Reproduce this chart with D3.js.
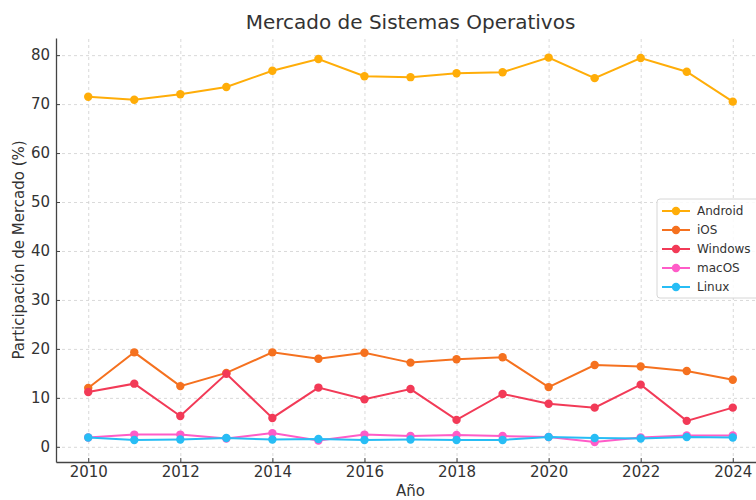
<!DOCTYPE html>
<html>
<head>
<meta charset="utf-8">
<script src="https://cdn.jsdelivr.net/npm/d3@7"></script>
<style>
	body { margin: 0; background: #fff; }
	svg { font-family: "DejaVu Sans", sans-serif; }
	.grid line { stroke: #cfcfcf; stroke-dasharray: 3,3; stroke-width: 0.8; }
	.grid path { display: none; }
	.axis path { stroke: #444; stroke-width: 1.3; }
	.axis line { stroke: #444; }
	.axis text { fill: #333; font-size: 15px; font-family: "DejaVu Sans", sans-serif; }
</style>
</head>
<body>
<div id="chart"></div>
<script>
var years = [2010, 2011, 2012, 2013, 2014, 2015, 2016, 2017, 2018, 2019, 2020, 2021, 2022, 2023, 2024];
var android = [71.5, 70.9, 72.0, 73.5, 76.8, 79.2, 75.7, 75.5, 76.3, 76.5, 79.5, 75.3, 79.4, 76.6, 70.5];
var ios = [12.0, 19.3, 12.4, 15.1, 19.3, 18.0, 19.2, 17.2, 17.9, 18.3, 12.2, 16.7, 16.4, 15.5, 13.7];
var windows = [11.2, 12.9, 6.3, 14.9, 5.9, 12.1, 9.7, 11.8, 5.5, 10.8, 8.8, 8.0, 12.7, 5.3, 8.0];
var macos = [1.9, 2.5, 2.5, 1.7, 2.8, 1.3, 2.5, 2.2, 2.4, 2.2, 2.0, 1.0, 1.9, 2.3, 2.3];
var linux = [1.9, 1.4, 1.5, 1.8, 1.5, 1.6, 1.4, 1.5, 1.4, 1.4, 2.0, 1.8, 1.7, 2.0, 1.9];
var yTicks = [0, 10, 20, 30, 40, 50, 60, 70, 80];
var xTicks = [2010, 2012, 2014, 2016, 2018, 2020, 2022, 2024];

var series = [
	{name: "Android", values: android, color: "#ffad08"},
	{name: "iOS", values: ios, color: "#f5711f"},
	{name: "Windows", values: windows, color: "#f23a57"},
	{name: "macOS", values: macos, color: "#ff5cc8"},
	{name: "Linux", values: linux, color: "#27bdf5"}
];

var width = 756, height = 500;
var margin = {top: 38, right: -9, bottom: 38, left: 56};
var w = width - margin.left - margin.right;
var h = height - margin.top - margin.bottom;

var svg = d3.select("#chart").append("svg")
	.attr("width", width)
	.attr("height", height);

var x = d3.scaleLinear().domain([2009.3, 2024.7]).range([0, w]);
var y = d3.scaleLinear().domain([-3.1, 83.5]).range([h, 0]);

var g = svg.append("g")
	.attr("transform", "translate(" + margin.left + "," + margin.top + ")");

// grid
g.append("g")
	.attr("class", "grid")
	.attr("transform", "translate(0," + h + ")")
	.call(d3.axisBottom(x).tickValues(xTicks).tickSize(-h).tickFormat(""));
g.append("g")
	.attr("class", "grid")
	.call(d3.axisLeft(y).tickValues(yTicks).tickSize(-w).tickFormat(""));

// axes, ticks point inward
g.append("g")
	.attr("class", "axis")
	.attr("transform", "translate(0," + h + ")")
	.call(d3.axisBottom(x).tickValues(xTicks).tickFormat(d3.format("d")).tickSize(-4).tickSizeOuter(0).tickPadding(4));
g.append("g")
	.attr("class", "axis")
	.call(d3.axisLeft(y).tickValues(yTicks).tickSize(-4).tickSizeOuter(0).tickPadding(6));

var line = d3.line()
	.x(function(d, i) { return x(years[i]); })
	.y(function(d) { return y(d); });

series.forEach(function(s) {
	g.append("path")
		.datum(s.values)
		.attr("fill", "none")
		.attr("stroke", s.color)
		.attr("stroke-width", 2)
		.attr("d", line);
	g.selectAll(null)
		.data(s.values)
		.enter()
		.append("circle")
		.attr("cx", function(d, i) { return x(years[i]); })
		.attr("cy", function(d) { return y(d); })
		.attr("r", 4.2)
		.attr("fill", s.color);
});

// title and labels
svg.append("text")
	.attr("x", margin.left + w / 2)
	.attr("y", 29)
	.attr("text-anchor", "middle")
	.attr("fill", "#333")
	.style("font-size", "20px")
	.text("Mercado de Sistemas Operativos");

svg.append("text")
	.attr("x", margin.left + w / 2)
	.attr("y", 496)
	.attr("text-anchor", "middle")
	.attr("fill", "#333")
	.style("font-size", "15px")
	.text("Año");

svg.append("text")
	.attr("transform", "translate(24," + (margin.top + h / 2) + ") rotate(-90)")
	.attr("text-anchor", "middle")
	.attr("fill", "#333")
	.style("font-size", "15px")
	.text("Participación de Mercado (%)");

// legend
var legend = svg.append("g").attr("transform", "translate(657,199)");
legend.append("rect")
	.attr("width", 110)
	.attr("height", 99)
	.attr("rx", 3)
	.attr("fill", "#fff")
	.attr("fill-opacity", 0.85)
	.attr("stroke", "#d6d6d6");
var item = legend.selectAll("g.item")
	.data(series)
	.enter()
	.append("g")
	.attr("class", "item")
	.attr("transform", function(d, i) { return "translate(0," + (12 + i * 19) + ")"; });
item.append("line")
	.attr("x1", 5).attr("x2", 33)
	.attr("stroke", function(d) { return d.color; })
	.attr("stroke-width", 2);
item.append("circle")
	.attr("cx", 19)
	.attr("r", 4.2)
	.attr("fill", function(d) { return d.color; });
item.append("text")
	.attr("x", 40)
	.attr("dy", "0.35em")
	.attr("fill", "#333")
	.style("font-size", "12px")
	.text(function(d) { return d.name; });
</script>
</body>
</html>
